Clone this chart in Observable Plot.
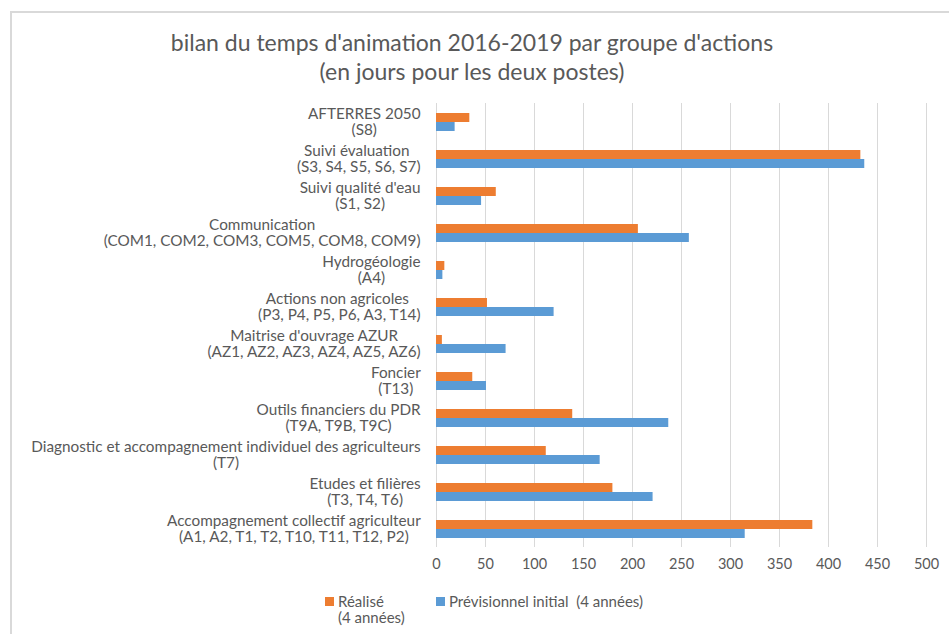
<!DOCTYPE html>
<html>
<head>
<meta charset="utf-8">
<script src="https://cdn.jsdelivr.net/npm/d3@7"></script>
<script src="https://cdn.jsdelivr.net/npm/@observablehq/plot@0.6"></script>
<style>
  body { margin: 0; background: #fff; font-family: Lato, "Open Sans", sans-serif; color: #595959; }
  #frame { position: relative; width: 949px; height: 634px; overflow: hidden; }
  #border { position: absolute; left: 10px; top: 11px; right: -5px; bottom: -5px; border-top: 2px solid #d9d9d9; border-left: 2px solid #d9d9d9; pointer-events: none; }
  #title { width: 944px; height: 60px; padding-top: 28px; text-align: center; font-size: 23px; line-height: 29px; color: #595959; }
  #chart svg { display: block; }
  #legend { position: relative; height: 49px; font-size: 15px; line-height: 16px; color: #595959; }
  .item { position: absolute; top: 8px; }
  .sw { position: absolute; width: 9px; height: 9px; top: 4px; }
  .lab { position: absolute; white-space: pre; height: 16px; }
</style>
</head>
<body>
<div id="frame">
  <div id="title">bilan du temps d'animation 2016-2019 par groupe d'actions<br>(en jours pour les deux postes)</div>
  <div id="chart"></div>
  <div id="legend"></div>
  <div id="border"></div>
</div>
<script>
// ---- Data ----
const categories = [
  "AFTERRES 2050\n(S8)",
  "Suivi évaluation \n(S3, S4, S5, S6, S7)",
  "Suivi qualité d'eau\n(S1, S2)",
  "Communication\n(COM1, COM2, COM3, COM5, COM8, COM9)",
  "Hydrogéologie\n(A4)",
  "Actions non agricoles \n(P3, P4, P5, P6, A3, T14)",
  "Maitrise d'ouvrage AZUR\n(AZ1, AZ2, AZ3, AZ4, AZ5, AZ6)",
  "Foncier\n(T13)",
  "Outils financiers du PDR\n(T9A, T9B, T9C)",
  "Diagnostic et accompagnement individuel des agriculteurs\n(T7)",
  "Etudes et filières\n(T3, T4, T6)",
  "Accompagnement collectif agriculteur\n(A1, A2, T1, T2, T10, T11, T12, P2)"
];
const realise      = [34, 433, 61, 206, 8.5, 52, 6, 37, 139, 112, 180, 384];
const previsionnel = [19, 437, 46, 258, 6.5, 120, 71, 51, 237, 167, 221, 315];
const seriesNames  = ["Réalisé\n(4 années)", "Prévisionnel initial  (4 années)"];
const seriesColors = ["#ED7D31", "#5B9BD5"];
const xTicks       = [0, 50, 100, 150, 200, 250, 300, 350, 400, 450, 500];

const rows = [];
categories.forEach((c, i) => {
  rows.push({category: c, series: seriesNames[0], value: realise[i]});
  rows.push({category: c, series: seriesNames[1], value: previsionnel[i]});
});

const plot = Plot.plot({
  width: 949,
  height: 497,
  marginTop: 13,
  marginBottom: 36,
  marginLeft: 436,
  marginRight: 23,
  style: { fontFamily: "Lato, 'Open Sans', sans-serif", color: "#595959", background: "#fff" },
  x: { domain: [0, 500] },
  fy: { domain: categories, padding: 0 },
  y: { domain: seriesNames, paddingInner: 0, paddingOuter: 0.96, axis: null },
  color: { domain: seriesNames, range: seriesColors },
  marks: [
    Plot.gridX(xTicks, { stroke: "#d9d9d9", strokeOpacity: 1, strokeWidth: 1 }),
    Plot.barX(rows, { fy: "category", y: "series", x: "value", fill: "series" }),
    Plot.axisX(xTicks, { tickSize: 0, tickPadding: 11, fontSize: 14.5, label: null, fill: "#595959" }),
    Plot.axisFy({ anchor: "left", tickSize: 0, tickPadding: 16, fontSize: 15.3, lineHeight: 1.05, label: null, fill: "#595959" })
  ]
});
document.getElementById("chart").appendChild(plot);

// center each multi-line category label as a block, right-aligned to the axis
plot.querySelectorAll('[aria-label="fy-axis tick label"] text').forEach(t => {
  t.style.whiteSpace = "pre";
  const b = t.getBBox();
  t.setAttribute("text-anchor", "middle");
  const cx = b.x + b.width / 2;
  const spans = t.querySelectorAll("tspan");
  if (spans.length) spans.forEach(s => s.setAttribute("x", cx));
  else t.setAttribute("x", cx);
});

// legend
const legend = document.getElementById("legend");
const legendPos = [325, 436];
seriesNames.forEach((name, i) => {
  const item = document.createElement("div");
  item.className = "item";
  item.style.left = legendPos[i] + "px";
  const sw = document.createElement("div");
  sw.className = "sw";
  sw.style.background = seriesColors[i];
  item.appendChild(sw);
  name.split("\n").forEach((line, j) => {
    const lab = document.createElement("div");
    lab.className = "lab";
    lab.style.left = "13px";
    lab.style.top = (j * 16) + "px";
    lab.textContent = line;
    item.appendChild(lab);
  });
  legend.appendChild(item);
});
</script>
</body>
</html>
